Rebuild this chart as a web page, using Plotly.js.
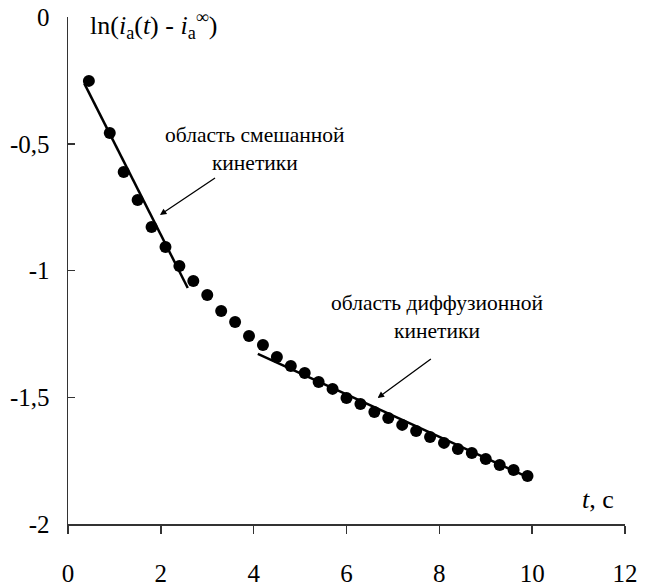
<!DOCTYPE html>
<html>
<head>
<meta charset="utf-8">
<script src="https://cdn.plot.ly/plotly-3.0.1.min.js"></script>
<style>html,body{margin:0;padding:0;background:#fff;}#chart{width:651px;height:586px;}</style>
</head>
<body>
<div id="chart"></div>
<script>
// Measured points
const timeS = [0.45, 0.9, 1.2, 1.5, 1.8, 2.1, 2.4, 2.7, 3.0, 3.3, 3.6, 3.9, 4.2, 4.5, 4.8, 5.1, 5.4, 5.7, 6.0, 6.3, 6.6, 6.9, 7.2, 7.5, 7.8, 8.1, 8.4, 8.7, 9.0, 9.3, 9.6, 9.9];
const lnCurrent = [-0.252, -0.458, -0.611, -0.722, -0.828, -0.907, -0.982, -1.041, -1.097, -1.160, -1.203, -1.258, -1.294, -1.341, -1.377, -1.404, -1.440, -1.467, -1.503, -1.527, -1.558, -1.582, -1.609, -1.633, -1.657, -1.680, -1.704, -1.720, -1.744, -1.767, -1.787, -1.811];
// Linear fits
const mixedFitT = [0.35, 2.58];
const mixedFitY = [-0.262, -1.069];
const diffFitT = [4.09, 9.94];
const diffFitY = [-1.329, -1.818];
// Ticks
const xTickVals = [0, 2, 4, 6, 8, 10, 12];
const xTickText = ['0', '2', '4', '6', '8', '10', '12'];
const yTickVals = [0, -0.5, -1, -1.5, -2];
const yTickText = ['0', '-0,5', '-1', '-1,5', '-2'];
// Labels
const mixedLabel = 'область смешанной<br>кинетики';
const diffLabel = 'область диффузионной<br>кинетики';
const yTitle = 'ln(<i>i</i><sub>a</sub>(<i>t</i>) - <i>i</i><sub>a</sub><sup>∞</sup>)';
const xTitle = '<i>t</i>, с';

const FONT = 'Times New Roman, Liberation Serif, DejaVu Serif, serif';

const traces = [
  {x: mixedFitT, y: mixedFitY, mode: 'lines', line: {color: '#000', width: 2.5}, cliponaxis: false, hoverinfo: 'skip'},
  {x: diffFitT, y: diffFitY, mode: 'lines', line: {color: '#000', width: 2.5}, cliponaxis: false, hoverinfo: 'skip'},
  {x: timeS, y: lnCurrent, mode: 'markers', marker: {color: '#000', size: 12}, cliponaxis: false}
];

const layout = {
  width: 651, height: 586,
  margin: {l: 68, r: 26, t: 17, b: 62},
  paper_bgcolor: '#fff', plot_bgcolor: '#fff',
  showlegend: false,
  font: {family: FONT, size: 25, color: '#000'},
  xaxis: {
    range: [0, 12], tickvals: xTickVals, ticktext: xTickText,
    showline: true, linecolor: '#333', linewidth: 1.5,
    ticks: 'outside', ticklen: 8, tickwidth: 1.5, tickcolor: '#333',
    showgrid: false, zeroline: false, ticklabelstandoff: 18,
    tickfont: {family: FONT, size: 25, color: '#000'}
  },
  yaxis: {
    range: [-2, 0], tickvals: yTickVals, ticktext: yTickText,
    showline: true, linecolor: '#333', linewidth: 1.5,
    ticks: 'inside', ticklen: 7, tickwidth: 1.5, tickcolor: '#333',
    showgrid: false, zeroline: false, ticklabelstandoff: 12,
    tickfont: {family: FONT, size: 25, color: '#000'}
  },
  annotations: [
    {xref: 'paper', yref: 'paper', x: 0.036, y: 0.985, xanchor: 'left', yanchor: 'middle', text: yTitle, showarrow: false, font: {family: FONT, size: 26, color: '#000'}},
    {xref: 'x', yref: 'y', x: 11.8, y: -1.905, xanchor: 'right', yanchor: 'middle', text: xTitle, showarrow: false, font: {family: FONT, size: 26, color: '#000'}},
    {xref: 'x', yref: 'y', x: 4.02, y: -0.52, xanchor: 'center', yanchor: 'middle', text: mixedLabel, showarrow: false, font: {family: FONT, size: 21.5, color: '#000'}},
    {xref: 'x', yref: 'y', x: 7.95, y: -1.185, xanchor: 'center', yanchor: 'middle', text: diffLabel, showarrow: false, font: {family: FONT, size: 21.5, color: '#000'}},
    {xref: 'x', yref: 'y', axref: 'x', ayref: 'y', x: 1.98, y: -0.781, ax: 3.2, ay: -0.631, text: '', showarrow: true, arrowhead: 2, arrowsize: 1, arrowwidth: 1.3, arrowcolor: '#000'},
    {xref: 'x', yref: 'y', axref: 'x', ayref: 'y', x: 6.67, y: -1.503, ax: 7.85, ay: -1.345, text: '', showarrow: true, arrowhead: 2, arrowsize: 1, arrowwidth: 1.3, arrowcolor: '#000'}
  ]
};

Plotly.newPlot('chart', traces, layout, {displayModeBar: false, staticPlot: true});
</script>
</body>
</html>
